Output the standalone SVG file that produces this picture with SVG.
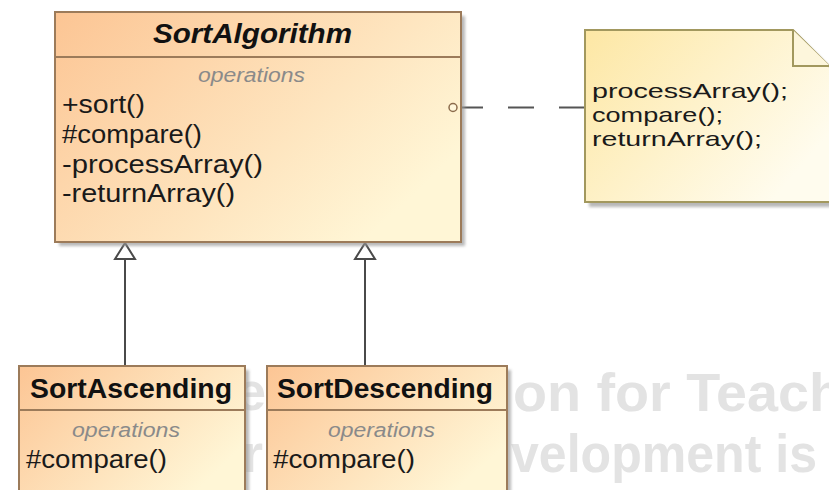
<svg xmlns="http://www.w3.org/2000/svg" width="829" height="490" viewBox="0 0 829 490">
<defs>
<linearGradient id="cls" x1="0" y1="0" x2="1" y2="0.6">
<stop offset="0" stop-color="#fcc594"/>
<stop offset="1" stop-color="#fff6d6"/>
</linearGradient>
<linearGradient id="note" x1="0" y1="0" x2="1" y2="0.6">
<stop offset="0" stop-color="#fde7a4"/>
<stop offset="1" stop-color="#fffcee"/>
</linearGradient>
<filter id="sh" x="-5%" y="-5%" width="115%" height="115%">
<feGaussianBlur stdDeviation="1.5"/>
</filter>
</defs>
<style>
.box{fill:url(#cls);stroke:#9c7b5a;stroke-width:2}
.nbox{fill:url(#note);stroke:#a2985e;stroke-width:2}
.shadow{fill:#9a9a9a;opacity:0.7;filter:url(#sh)}
.div{stroke:#9c7b5a;stroke-width:2}
.title{font-family:"Liberation Sans",Arial,sans-serif;font-weight:bold;font-size:27px;fill:#111}
.ops{font-family:"Liberation Sans",Arial,sans-serif;font-style:italic;font-size:20px;fill:#8a8a8a}
.op{font-family:"Liberation Sans",Arial,sans-serif;font-size:25px;fill:#1a1a1a}
.nt{font-family:"Liberation Sans",Arial,sans-serif;font-size:21px;fill:#1a1a1a}
.wm{font-family:"Liberation Sans",Arial,sans-serif;font-weight:bold;font-size:54px;fill:#e3e3e3}
.edge{stroke:#4a4a4a;stroke-width:2;fill:none}
</style>
<g id="watermark">
<text class="wm" x="236" y="410">e</text>
<text class="wm" x="242" y="472">r</text>
<text class="wm" x="513" y="411" textLength="330" lengthAdjust="spacingAndGlyphs">on for Teach</text>
<text class="wm" x="511" y="472" textLength="306" lengthAdjust="spacingAndGlyphs">velopment is</text>
</g>
<g id="connectors">
<path class="edge" d="M125 259 V366"/>
<path class="edge" d="M365 259 V366"/>
<polygon points="125,243 115,259 135,259" fill="#ffffff" stroke="#4a4a4a" stroke-width="2"/>
<polygon points="365,243 355,259 375,259" fill="#ffffff" stroke="#4a4a4a" stroke-width="2"/>
<path d="M457 107.5 H585" stroke="#555" stroke-width="2" stroke-dasharray="26 25"/>
</g>
<g id="SortAlgorithm">
<rect class="shadow" x="59" y="16" width="406" height="230"/>
<rect class="box" x="55" y="12" width="406" height="230"/>
<line class="div" x1="55" y1="57" x2="461" y2="57"/>
<text class="title" x="153" y="43" font-style="italic" textLength="199" lengthAdjust="spacingAndGlyphs">SortAlgorithm</text>
<text class="ops" x="198" y="82" textLength="107" lengthAdjust="spacingAndGlyphs">operations</text>
<text class="op" x="62" y="113" textLength="83" lengthAdjust="spacingAndGlyphs">+sort()</text>
<text class="op" x="62" y="143" textLength="140" lengthAdjust="spacingAndGlyphs">#compare()</text>
<text class="op" x="62" y="173" textLength="201" lengthAdjust="spacingAndGlyphs">-processArray()</text>
<text class="op" x="62" y="202" textLength="173" lengthAdjust="spacingAndGlyphs">-returnArray()</text>
<circle cx="453" cy="107.5" r="4" fill="#fff7dc" stroke="#8c6c4c" stroke-width="1.5"/>
</g>
<g id="note">
<path class="shadow" d="M589 35 H797 L834 71 V207 H589 Z"/>
<path class="nbox" d="M585 30 H793 L830 67 V202 H585 Z"/>
<path d="M793 30 V66 H830" fill="#fdf6dc" stroke="#a2985e" stroke-width="2"/>
<text class="nt" x="592" y="98" textLength="196" lengthAdjust="spacingAndGlyphs">processArray();</text>
<text class="nt" x="592" y="122" textLength="131" lengthAdjust="spacingAndGlyphs">compare();</text>
<text class="nt" x="592" y="146" textLength="170" lengthAdjust="spacingAndGlyphs">returnArray();</text>
</g>
<g id="SortAscending">
<rect class="shadow" x="23" y="370" width="226" height="130"/>
<rect class="box" x="19" y="366" width="226" height="130"/>
<line class="div" x1="19" y1="410" x2="245" y2="410"/>
<text class="title" x="30" y="398" textLength="202" lengthAdjust="spacingAndGlyphs">SortAscending</text>
<text class="ops" x="72" y="437" textLength="108" lengthAdjust="spacingAndGlyphs">operations</text>
<text class="op" x="26" y="468" textLength="141" lengthAdjust="spacingAndGlyphs">#compare()</text>
</g>
<g id="SortDescending">
<rect class="shadow" x="271" y="370" width="240" height="130"/>
<rect class="box" x="267" y="366" width="240" height="130"/>
<line class="div" x1="267" y1="410" x2="507" y2="410"/>
<text class="title" x="277" y="398" textLength="216" lengthAdjust="spacingAndGlyphs">SortDescending</text>
<text class="ops" x="328" y="437" textLength="107" lengthAdjust="spacingAndGlyphs">operations</text>
<text class="op" x="273" y="468" textLength="142" lengthAdjust="spacingAndGlyphs">#compare()</text>
</g>
</svg>
